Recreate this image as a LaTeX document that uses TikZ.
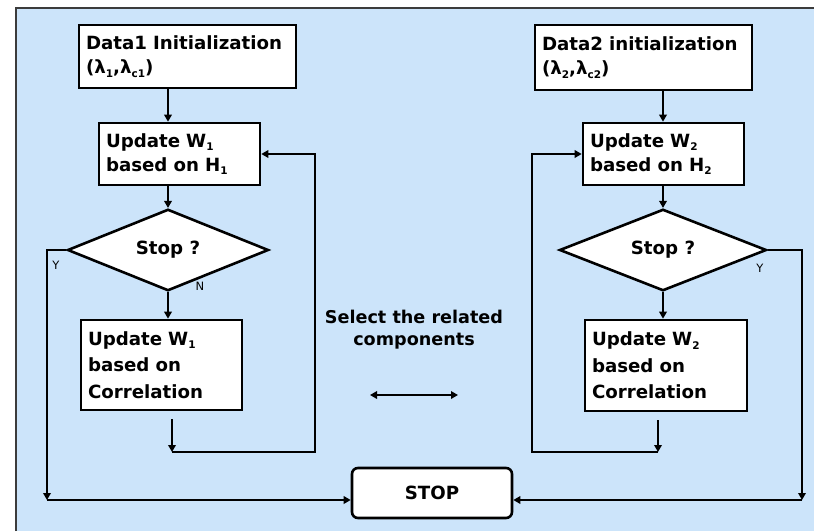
\documentclass[tikz,border=0pt]{standalone}
\usepackage{fontspec}
\setmainfont{DejaVu Sans}
\usetikzlibrary{shapes.geometric,arrows.meta}
\definecolor{bgblue}{RGB}{204,228,250}
\definecolor{framegray}{RGB}{60,60,60}
\newcommand\sbs[1]{\raisebox{-0.35ex}{\fontsize{10.5}{10}\selectfont #1}}
\tikzset{
  box/.style={draw=black, line width=2.6pt, fill=white, align=left, inner sep=0pt,
    font=\fontsize{18.2}{24}\selectfont\bfseries, anchor=center},
  dia/.style={draw=black, line width=2.6pt, fill=white, diamond, inner sep=0pt,
    font=\fontsize{18.2}{24}\selectfont\bfseries},
  conn/.style={line width=2.8pt, -{Triangle[length=7pt,width=7.5pt]}},
  yn/.style={font=\fontsize{11.5}{12}\selectfont, inner sep=0pt},
}
\begin{document}
\begin{tikzpicture}[x=1pt,y=-1pt]
\useasboundingbox (0,0) rectangle (814,531);
\fill[bgblue] (16,8) rectangle (814,531);
\draw[framegray, line width=2pt] (16,531) -- (16,8) -- (814,8);

% columns
\coordinate (col1) at (168,0);
\coordinate (col2) at (663,0);

% left branch
\node[box, minimum width=217pt, minimum height=63pt, text width=203pt] (d1) at (187.5,56.5)
  {Data1 Initialization\\(λ\sbs{1},λ\sbs{c1})};
\node[box, minimum width=161pt, minimum height=62pt, text width=147pt] (u1) at (179.5,154)
  {Update W\sbs{1}\\based on H\sbs{1}};
\node[dia, minimum width=201pt, minimum height=59pt] (s1) at (168,250) {Stop ?};
\node[box, minimum width=161pt, minimum height=90pt, text width=147pt, font=\fontsize{18.2}{26.5}\selectfont\bfseries] (c1) at (161.5,365)
  {Update W\sbs{1}\\based on\\Correlation};

% right branch
\node[box, minimum width=217pt, minimum height=65pt, text width=203pt] (d2) at (643.5,57.5)
  {Data2 initialization\\(λ\sbs{2},λ\sbs{c2})};
\node[box, minimum width=161pt, minimum height=62pt, text width=147pt] (u2) at (663.5,154)
  {Update W\sbs{2}\\based on H\sbs{2}};
\node[dia, minimum width=207pt, minimum height=59pt] (s2) at (663,250) {Stop ?};
\node[box, minimum width=162pt, minimum height=91pt, text width=148pt, font=\fontsize{18.2}{26.5}\selectfont\bfseries] (c2) at (666,365.5)
  {Update W\sbs{2}\\based on\\Correlation};

% stop
\node[box, rounded corners=6pt, minimum width=160pt, minimum height=50pt, align=center] (stop) at (432,493) {STOP};

% middle text and double arrow
\node[font=\fontsize{17.6}{22}\selectfont\bfseries, align=center, inner sep=0pt] (sel) at (414,330)
  {Select the related\\components};
\coordinate (da1) at (370,395);
\coordinate (da2) at (458,395);
\draw[line width=2.8pt, {Triangle[length=7pt,width=7.5pt]}-{Triangle[length=7pt,width=7.5pt]}] (da1) -- (da2);

% left connectors
\draw[conn] (d1.south -| col1) -- (u1.north -| col1);
\draw[conn] (u1.south -| col1) -- (s1.north);
\draw[conn] (s1.south) -- (c1.north -| col1);
\coordinate (b1) at (172,452);
\coordinate (r1) at (315,452);
\draw[conn] ([yshift=-8pt]c1.south -| b1) -- (b1);
\draw[conn] (b1) -- (r1) |- (u1.east);
\coordinate (y1) at (47,500);
\draw[conn] (s1.west) -| (y1);
\draw[conn] (y1) -- (stop.west |- y1);

% right connectors
\draw[conn] (d2.south -| col2) -- (u2.north -| col2);
\draw[conn] (u2.south -| col2) -- (s2.north);
\draw[conn] (s2.south) -- (c2.north -| col2);
\coordinate (b2) at (658,452);
\coordinate (r2) at (532,452);
\draw[conn] ([yshift=-8pt]c2.south -| b2) -- (b2);
\draw[conn] (b2) -- (r2) |- (u2.west);
\coordinate (y2) at (802,500);
\draw[conn] (s2.east) -| (y2);
\draw[conn] (y2) -- (stop.east |- y2);

% Y / N labels
\node[yn] (ly1) at (56,265) {Y};
\node[yn] (ln1) at (200,286) {N};
\node[yn] (ly2) at (760,268) {Y};
\end{tikzpicture}
\end{document}
